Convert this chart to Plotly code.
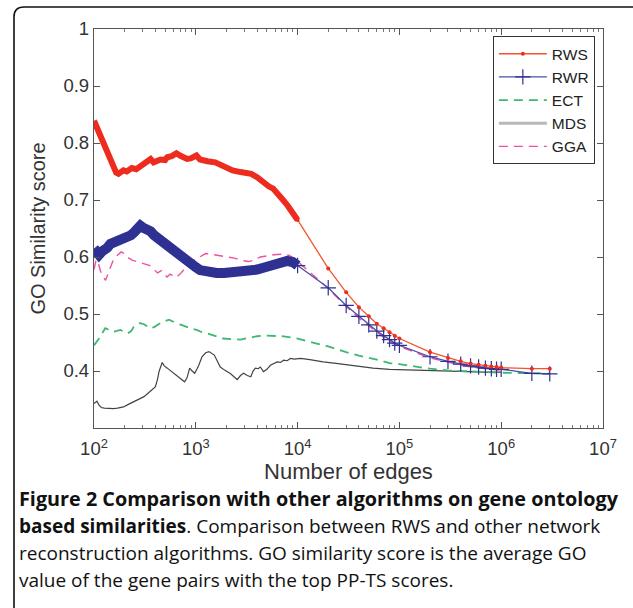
import plotly.graph_objects as go

# ---------------- data ----------------
rws_dense_x = [100, 106, 116, 123, 135, 147, 155, 165, 174, 185, 195, 210, 235, 260, 290, 310, 340, 360,
               385, 415, 450, 500, 525, 580, 645, 700, 760, 820, 890, 960, 1015, 1100, 1200, 1300, 1550,
               1800, 2050, 2300, 2750, 3200, 3500, 4000, 4700, 5200, 5750, 6400, 7200, 8000, 9100, 10000]
rws_dense_y = [0.839, 0.828, 0.816, 0.800, 0.787, 0.765, 0.758, 0.748, 0.746, 0.750, 0.752, 0.750, 0.756,
               0.754, 0.761, 0.764, 0.768, 0.772, 0.766, 0.769, 0.771, 0.770, 0.775, 0.777, 0.782, 0.778,
               0.775, 0.772, 0.773, 0.777, 0.778, 0.771, 0.769, 0.768, 0.766, 0.760, 0.755, 0.752, 0.749,
               0.748, 0.746, 0.740, 0.729, 0.724, 0.720, 0.712, 0.700, 0.690, 0.676, 0.665]

sparse_x = [10000, 20000, 30000, 40000, 50000, 60000, 70000, 80000, 90000, 100000,
            200000, 300000, 400000, 500000, 600000, 700000, 800000, 900000, 1000000, 2000000, 3000000]
rws_sparse_y = [0.665, 0.580, 0.538, 0.512, 0.496, 0.483, 0.475, 0.468, 0.462, 0.457,
                0.433, 0.423, 0.417, 0.413, 0.411, 0.409, 0.408, 0.407, 0.406, 0.404, 0.404]

rwr_dense_x = [100, 104, 107, 112, 120, 127, 135, 145, 160, 182, 200, 215, 230, 250, 270, 285, 300, 320,
               340, 360, 390, 430, 480, 540, 600, 650, 710, 800, 890, 1000, 1100, 1300, 1600, 1900, 2300,
               2750, 3300, 4000, 4800, 5800, 6800, 7900, 9000, 10000]
rwr_dense_y = [0.615, 0.610, 0.606, 0.604, 0.610, 0.612, 0.616, 0.623, 0.626, 0.629, 0.632, 0.636, 0.638,
               0.644, 0.650, 0.655, 0.652, 0.650, 0.648, 0.645, 0.638, 0.632, 0.624, 0.616, 0.609, 0.603,
               0.598, 0.592, 0.588, 0.582, 0.577, 0.574, 0.572, 0.572, 0.573, 0.575, 0.576, 0.578, 0.582,
               0.586, 0.590, 0.593, 0.591, 0.585]
rwr_sparse_y = [0.585, 0.546, 0.515, 0.496, 0.481, 0.470, 0.462, 0.455, 0.449, 0.445,
                0.425, 0.417, 0.412, 0.409, 0.407, 0.405, 0.404, 0.403, 0.403, 0.396, 0.395]

gga_x = [100, 105, 110, 116, 123, 130, 138, 145, 155, 170, 185, 200, 220, 240, 265, 290, 320, 355, 380,
         420, 460, 520, 560, 640, 700, 760, 850, 950, 1100, 1250, 1400, 1650, 2000, 2400, 2800, 3300,
         3800, 4300, 5000, 5800, 7000, 8200, 9200, 10000, 12300, 20000, 30000, 40000, 50000, 60000,
         70000, 80000, 90000, 100000, 200000, 300000, 400000, 500000, 600000, 700000, 800000, 900000,
         1000000]
gga_y = [0.578, 0.595, 0.590, 0.575, 0.566, 0.559, 0.572, 0.583, 0.595, 0.603, 0.609, 0.606, 0.598,
         0.594, 0.592, 0.590, 0.588, 0.585, 0.580, 0.572, 0.576, 0.565, 0.570, 0.564, 0.570, 0.578,
         0.587, 0.594, 0.600, 0.606, 0.605, 0.603, 0.601, 0.598, 0.594, 0.592, 0.595, 0.600, 0.602,
         0.604, 0.605, 0.603, 0.598, 0.592, 0.578, 0.545, 0.513, 0.493, 0.479, 0.468, 0.459, 0.452,
         0.447, 0.443, 0.423, 0.415, 0.410, 0.407, 0.405, 0.404, 0.403, 0.402, 0.401]

ect_x = [100, 105, 112, 120, 129, 137, 145, 155, 165, 182, 200, 214, 232, 245, 270, 285, 310, 330, 355,
         390, 420, 470, 545, 600, 660, 720, 810, 920, 1020, 1150, 1300, 1550, 1850, 2200, 2750, 3300,
         4000, 4800, 5750, 7000, 8500, 10000, 13200, 20000, 30000, 40000, 60000, 80000, 100000,
         150000, 200000, 300000, 500000, 1000000, 2000000, 3000000]
ect_y = [0.445, 0.450, 0.457, 0.466, 0.475, 0.473, 0.472, 0.469, 0.470, 0.472, 0.468, 0.466, 0.470,
         0.477, 0.483, 0.484, 0.482, 0.478, 0.475, 0.477, 0.480, 0.486, 0.490, 0.486, 0.483, 0.481,
         0.477, 0.474, 0.472, 0.468, 0.466, 0.462, 0.457, 0.456, 0.455, 0.458, 0.461, 0.462, 0.462,
         0.461, 0.459, 0.457, 0.451, 0.443, 0.433, 0.427, 0.420, 0.414, 0.412, 0.407, 0.404, 0.401,
         0.399, 0.397, 0.396, 0.396]

mds_x = [100, 107, 112, 118, 126, 140, 155, 170, 185, 195, 215, 245, 275, 310, 355, 380, 400, 420, 437,
         468, 490, 525, 570, 630, 700, 775, 820, 870, 920, 975, 1030, 1070, 1150, 1250, 1350, 1450, 1520,
         1620, 1740, 1900, 2200, 2400, 2550, 2750, 2950, 3200, 3470, 3650, 3850, 4100, 4300, 4620, 5000,
         5400, 5900, 6300, 6800, 7300, 7900, 8500, 9300, 10700, 13200, 17800, 25000, 38000, 55000,
         80000, 117000, 170000, 250000, 400000, 700000, 1000000]
mds_y = [0.343, 0.347, 0.340, 0.336, 0.335, 0.334, 0.334, 0.335, 0.336, 0.337, 0.341, 0.346, 0.351,
         0.355, 0.364, 0.368, 0.372, 0.385, 0.400, 0.415, 0.409, 0.405, 0.400, 0.393, 0.387, 0.381,
         0.388, 0.405, 0.400, 0.396, 0.404, 0.410, 0.425, 0.432, 0.434, 0.431, 0.428, 0.418, 0.407,
         0.402, 0.395, 0.389, 0.385, 0.392, 0.396, 0.392, 0.390, 0.400, 0.405, 0.404, 0.407, 0.399,
         0.403, 0.410, 0.413, 0.416, 0.415, 0.419, 0.418, 0.422, 0.421, 0.422, 0.420, 0.416, 0.413,
         0.409, 0.405, 0.403, 0.402, 0.401, 0.400, 0.399, 0.398, 0.398]

x_tickvals = [1e2, 1e3, 1e4, 1e5, 1e6, 1e7]
x_ticktext = ["10<sup>2</sup>", "10<sup>3</sup>", "10<sup>4</sup>", "10<sup>5</sup>",
              "10<sup>6</sup>", "10<sup>7</sup>"]
y_tickvals = [0.4, 0.5, 0.6, 0.7, 0.8, 0.9, 1.0]
y_ticktext = ["0.4", "0.5", "0.6", "0.7", "0.8", "0.9", "1"]

caption_lines = [
    "<b>Figure 2 Comparison with other algorithms on gene ontology</b>",
    "<b>based similarities</b>. Comparison between RWS and other network",
    "reconstruction algorithms. GO similarity score is the average GO",
    "value of the gene pairs with the top PP-TS scores.",
]

# ---------------- styles ----------------
RED = "#ee2b1f"
RED_THIN = "#f2552c"
NAVY = "#2e3192"
GREEN = "#3cb870"
PINK = "#f0509f"
GRAY = "#444444"
SANS = "Liberation Sans, Arial, sans-serif"

fig = go.Figure()

fig.add_trace(go.Scatter(x=mds_x, y=mds_y, mode="lines", line=dict(color=GRAY, width=1.2),
                         showlegend=False, hoverinfo="skip"))
fig.add_trace(go.Scatter(x=ect_x, y=ect_y, mode="lines", name="ECT",
                         line=dict(color=GREEN, width=1.8, dash="9px,6px"), legendrank=3))
fig.add_trace(go.Scatter(x=gga_x, y=gga_y, mode="lines", name="GGA",
                         line=dict(color=PINK, width=1.4, dash="9px,6px"), legendrank=5))
fig.add_trace(go.Scatter(x=rwr_dense_x, y=rwr_dense_y, mode="lines",
                         line=dict(color=NAVY, width=10), showlegend=False, hoverinfo="skip"))
fig.add_trace(go.Scatter(x=sparse_x, y=rwr_sparse_y, mode="lines+markers", name="RWR",
                         line=dict(color="#4a4fa8", width=1.3),
                         marker=dict(symbol="cross-thin", size=11, line=dict(color=NAVY, width=1.2)),
                         legendrank=2))
fig.add_trace(go.Scatter(x=rws_dense_x, y=rws_dense_y, mode="lines",
                         line=dict(color=RED, width=6), showlegend=False, hoverinfo="skip"))
fig.add_trace(go.Scatter(x=sparse_x, y=rws_sparse_y, mode="lines+markers", name="RWS",
                         line=dict(color=RED_THIN, width=1.3),
                         marker=dict(symbol="circle", size=4, color=RED),
                         legendrank=1))
fig.add_trace(go.Scatter(x=[None], y=[None], mode="lines", name="MDS",
                         line=dict(color="#b8b8b8", width=3), legendrank=4))

axis_font = dict(family=SANS, size=18.5, color="#333333")

fig.update_xaxes(type="log", range=[2, 7], tickvals=x_tickvals, ticktext=x_ticktext,
                 ticks="inside", ticklen=6, tickcolor="#555", mirror="ticks",
                 showline=True, linecolor="#555", linewidth=1.3, showgrid=False, zeroline=False,
                 tickfont=axis_font, ticklabelstandoff=4,
                 minor=dict(ticks="inside", ticklen=3, tickcolor="#777", dtick="D1", showgrid=False),
                 title=dict(text="Number of edges", font=dict(family=SANS, size=22, color="#333"),
                            standoff=2))
fig.update_yaxes(range=[0.3, 1.0], tickvals=y_tickvals, ticktext=y_ticktext,
                 ticks="inside", ticklen=6, tickcolor="#555", mirror="ticks",
                 showline=True, linecolor="#555", linewidth=1.3, showgrid=False, zeroline=False,
                 tickfont=axis_font,
                 title=dict(text="GO Similarity score", font=dict(family=SANS, size=20, color="#333"),
                            standoff=12))

L, R, T, B = 94, 30, 29, 180
W, H = 633, 608
pw, ph = W - L - R, H - T - B

fig.update_layout(
    width=W, height=H,
    margin=dict(l=L, r=R, t=T, b=B),
    plot_bgcolor="white", paper_bgcolor="white",
    legend=dict(x=0.984, y=0.982, xanchor="right", yanchor="top",
                bgcolor="white", bordercolor="#333", borderwidth=1,
                font=dict(family=SANS, size=15.5, color="#222"),
                tracegroupgap=0, itemwidth=48),
)

cap_y_px = [498, 526, 553, 580]
cap_sizes = [19.8, 19, 19, 19]
for txt, ypx, fs in zip(caption_lines, cap_y_px, cap_sizes):
    fig.add_annotation(xref="paper", yref="paper", x=(17 - L) / pw, y=(H - B - ypx) / ph,
                       xanchor="left", yanchor="middle", text=txt, showarrow=False,
                       font=dict(family="Open Sans, Noto Sans, sans-serif", size=fs, color="#111"),
                       align="left")

def px_x(v):
    return (v - L) / pw

def px_y(v):
    return (H - B - v) / ph

x0, x1, y0, y1, r = 14, 645, 7, 620, 10
path = (f"M {px_x(x0)},{px_y(y0 + r)} "
        f"Q {px_x(x0)},{px_y(y0)} {px_x(x0 + r)},{px_y(y0)} "
        f"L {px_x(x1 - r)},{px_y(y0)} "
        f"Q {px_x(x1)},{px_y(y0)} {px_x(x1)},{px_y(y0 + r)} "
        f"L {px_x(x1)},{px_y(y1 - r)} "
        f"Q {px_x(x1)},{px_y(y1)} {px_x(x1 - r)},{px_y(y1)} "
        f"L {px_x(x0 + r)},{px_y(y1)} "
        f"Q {px_x(x0)},{px_y(y1)} {px_x(x0)},{px_y(y1 - r)} Z")
fig.add_shape(type="path", path=path, xref="paper", yref="paper",
              line=dict(color="#111", width=1.6), layer="below")

fig.write_html("out.html")
